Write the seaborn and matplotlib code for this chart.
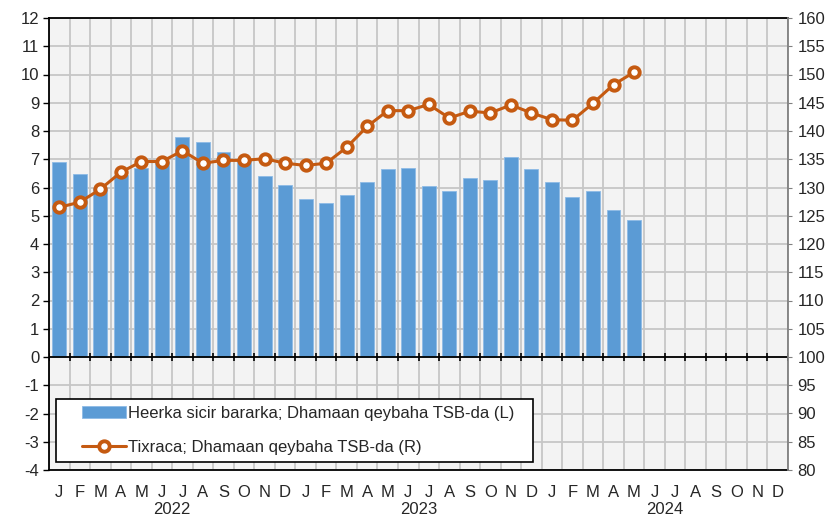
import numpy as np
import pandas as pd
import matplotlib
matplotlib.use("Agg")
import matplotlib.pyplot as plt
import matplotlib.transforms as mtransforms
from matplotlib.patches import Rectangle
import seaborn as sns

# --- data ---
MONTH_LETTERS = ["J", "F", "M", "A", "M", "J", "J", "A", "S", "O", "N", "D"]
YEARS = ["2022", "2023", "2024"]

# price level, left axis (Jan 2022 .. May 2024)
price_level = [6.9, 6.47, 6.0, 6.45, 6.7, 6.9, 7.78, 7.62, 7.25, 7.0, 6.42, 6.1,
               5.6, 5.45, 5.72, 6.2, 6.64, 6.69, 6.04, 5.88, 6.32, 6.27, 7.07, 6.64,
               6.2, 5.66, 5.88, 5.22, 4.85]
# index, right axis
index_vals = [126.5, 127.4, 129.7, 132.7, 134.6, 134.6, 136.5, 134.3, 134.8, 134.8, 135.1, 134.3,
              133.9, 134.3, 137.1, 140.8, 143.6, 143.6, 144.7, 142.3, 143.5, 143.2, 144.6, 143.2,
              142.0, 141.9, 144.9, 148.2, 150.4]

BAR_LABEL = "Heerka sicir bararka; Dhamaan qeybaha TSB-da (L)"
LINE_LABEL = "Tixraca; Dhamaan qeybaha TSB-da (R)"

BAR_COLOR = "#5b9bd5"
LINE_COLOR = "#c55a11"
GRID_COLOR = "#c6c6c6"

n_months = len(MONTH_LETTERS) * len(YEARS)
df = pd.DataFrame({
    "month": np.arange(len(price_level)),
    "level": price_level,
    "index": index_vals,
})

sns.set_style("white")
plt.rcParams["font.family"] = ["Liberation Sans", "DejaVu Sans"]
plt.rcParams["font.size"] = 12
plt.rcParams["axes.unicode_minus"] = False

fig = plt.figure(figsize=(8.31, 5.16), dpi=100)
ax = fig.add_axes([49 / 831, 1 - 470 / 516, (788 - 49) / 831, (470 - 18) / 516])
ax.set_facecolor("#f3f3f3")

sns.barplot(data=df, x="month", y="level", order=list(range(n_months)),
            color=BAR_COLOR, saturation=1, width=0.68, ax=ax,
            edgecolor="#8dbbe6", linewidth=0.6, label=BAR_LABEL)

ax.set_xlim(-0.5, n_months - 0.5)
ax.set_ylim(-4, 12)
ax.set_yticks(range(-4, 13))
ax.set_axisbelow(True)

# grid: horizontal per unit, vertical at month boundaries
boundaries = np.arange(n_months + 1) - 0.5
ax.set_xticks(boundaries, minor=True)
ax.grid(axis="y", which="major", color=GRID_COLOR, lw=1.3)
ax.grid(axis="x", which="minor", color=GRID_COLOR, lw=1.3)
ax.grid(axis="x", which="major", visible=False)

ax.set_xticks(range(n_months))
ax.set_xticklabels(MONTH_LETTERS * len(YEARS), fontsize=12)
ax.tick_params(axis="x", which="both", length=0, pad=11)
ax.tick_params(axis="y", length=4, width=1, color="black", direction="out", labelsize=12, pad=3)
ax.set_xlabel("")
ax.set_ylabel("")

for side in ["left", "top", "bottom"]:
    ax.spines[side].set_color("black")
    ax.spines[side].set_linewidth(1.3)
ax.spines["right"].set_visible(False)

# zero line with month ticks
ax.axhline(0, color="black", lw=1.3, zorder=3)
ax.vlines(boundaries, -0.14, 0.14, color="black", lw=1.2, zorder=3)

# year labels
trans = mtransforms.blended_transform_factory(ax.transData, ax.transAxes)
for k, yr in enumerate(YEARS):
    ax.text(k * 12 + 5.5, -0.088, yr, transform=trans, ha="center", va="center", fontsize=12)

# right axis with index line
ax2 = ax.twinx()
sns.lineplot(data=df, x="month", y="index", ax=ax2, color=LINE_COLOR, lw=2.2,
             marker="o", markersize=7.5, markerfacecolor="white",
             markeredgecolor=LINE_COLOR, markeredgewidth=2.8, label=LINE_LABEL)
ax2.set_ylim(80, 160)
ax2.set_yticks(range(80, 161, 5))
ax2.set_xlim(-0.5, n_months - 0.5)
ax2.set_ylabel("")
ax2.tick_params(axis="y", length=3, color="#808080", direction="out", labelsize=12, pad=4)
for side in ["left", "top", "bottom"]:
    ax2.spines[side].set_visible(False)
ax2.spines["right"].set_color("#808080")
ax2.spines["right"].set_linewidth(1.3)

# legend: frame drawn separately, entries placed inside
h1, l1 = ax.get_legend_handles_labels()
h2, l2 = ax2.get_legend_handles_labels()
if ax.get_legend() is not None:
    ax.get_legend().remove()
x0, x1 = (56 - 49) / 739, (533 - 49) / 739
y0, y1 = (470 - 462) / 452, (470 - 399) / 452
ax2.add_patch(Rectangle((x0, y0), x1 - x0, y1 - y0, transform=ax2.transAxes,
                        facecolor="white", edgecolor="black", lw=1.2, zorder=5))
leg = ax2.legend(h1 + h2, l1 + l2, loc="center left",
                 bbox_to_anchor=((82 - 49) / 739, (y0 + y1) / 2),
                 frameon=False, fontsize=12, handlelength=2.65, handletextpad=0.12,
                 borderpad=0, labelspacing=1.15, borderaxespad=0)
leg.set_zorder(6)

fig.savefig("out.png", dpi=100)
